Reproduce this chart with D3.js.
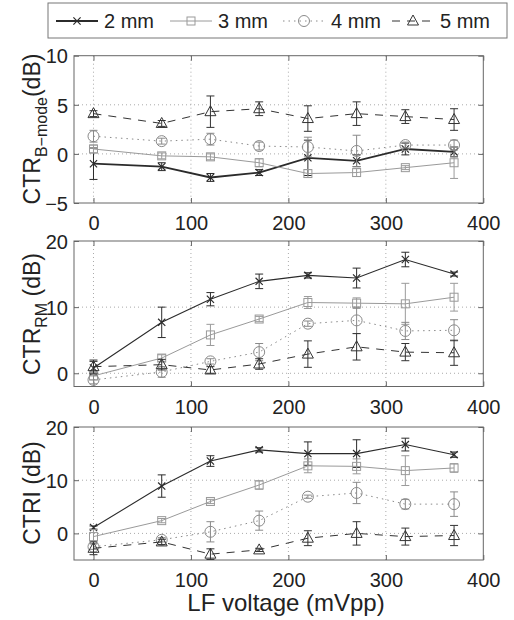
<!DOCTYPE html>
<html><head><meta charset="utf-8">
<script src="https://cdn.jsdelivr.net/npm/d3@7"></script>
<style>
html,body{margin:0;padding:0;background:#fff;}
svg{display:block;font-family:"Liberation Sans",Arial,Helvetica,sans-serif;}
</style></head>
<body><svg id="chart" width="514" height="620"></svg>
<script>
// ---------- data ----------
const voltages = [0, 70, 120, 170, 220, 270, 320, 370];
const seriesNames = ["2 mm", "3 mm", "4 mm", "5 mm"];
const xTicks = [0, 100, 200, 300, 400];

// CTR B-mode (dB)
const bmode2 = [-1.0, -1.3, -2.4, -1.9, -0.4, -0.7, 0.5, 0.2];
const bmode2Err = [1.6, 0.4, 0.4, 0.3, 1.8, 0.6, 0.6, 0.5];
const bmode3 = [0.5, -0.2, -0.3, -0.9, -2.0, -1.9, -1.4, -0.9];
const bmode3Err = [0.4, 0.3, 0.3, 0.4, 0.4, 0.4, 0.2, 1.6];
const bmode4 = [1.8, 1.3, 1.5, 0.8, 0.7, 0.3, 0.9, 0.9];
const bmode4Err = [0.6, 0.3, 0.6, 0.4, 1.0, 1.6, 0.3, 0.5];
const bmode5 = [4.1, 3.1, 4.3, 4.6, 3.6, 4.1, 3.8, 3.5];
const bmode5Err = [0.3, 0.3, 1.6, 0.7, 1.3, 1.2, 0.7, 1.1];
const bmodeTicks = [-5, 0, 5, 10];

// CTR RM (dB)
const rm2 = [0.8, 7.7, 11.2, 13.9, 14.8, 14.4, 17.2, 15.0];
const rm2Err = [1.0, 2.3, 1.0, 1.1, 0.4, 1.5, 1.1, 0.3];
const rm3 = [-0.4, 2.3, 5.8, 8.2, 10.7, 10.6, 10.5, 11.5];
const rm3Err = [0.6, 0.5, 1.6, 0.4, 0.9, 0.8, 3.1, 2.1];
const rm4 = [-1.0, 0.2, 1.8, 3.2, 7.5, 8.0, 6.4, 6.5];
const rm4Err = [0.6, 0.8, 0.4, 1.3, 0.4, 2.0, 1.3, 1.6];
const rm5 = [1.0, 1.3, 0.5, 1.4, 2.9, 4.0, 3.2, 3.1];
const rm5Err = [1.0, 0.8, 0.5, 0.8, 2.0, 2.0, 1.3, 1.9];
const rmTicks = [0, 10, 20];

// CTRI (dB)
const ctri2 = [1.1, 8.9, 13.6, 15.7, 15.0, 15.0, 16.7, 14.8];
const ctri2Err = [0.3, 2.1, 1.0, 0.4, 2.2, 2.6, 1.2, 0.5];
const ctri3 = [-0.6, 2.4, 6.0, 9.1, 12.7, 12.6, 11.8, 12.3];
const ctri3Err = [1.3, 0.4, 0.4, 0.8, 1.3, 1.4, 2.8, 0.8];
const ctri4 = [-2.5, -1.2, 0.3, 2.4, 6.9, 7.6, 5.5, 5.5];
const ctri4Err = [0.5, 0.4, 1.9, 1.8, 0.3, 2.0, 0.9, 2.3];
const ctri5 = [-2.8, -1.6, -3.9, -3.1, -0.9, 0.0, -0.6, -0.4];
const ctri5Err = [1.2, 0.5, 1.0, 0.3, 1.4, 2.2, 1.6, 1.9];
const ctriTicks = [0, 10, 20];

// ---------- styles ----------
const styles = [
  {color: "#2b2b2b", dash: null, marker: "x"},
  {color: "#9a9a9a", dash: null, marker: "square"},
  {color: "#8a8a8a", dash: "1.5,4", marker: "circle"},
  {color: "#333333", dash: "8,7", marker: "triangle"}
];

const svg = d3.select("#chart");
const x = d3.scaleLinear().domain([-20, 400]).range([74, 483.3]);

const panels = [
  {series: [bmode2, bmode3, bmode4, bmode5], errs: [bmode2Err, bmode3Err, bmode4Err, bmode5Err],
   domain: [-5, 10], range: [203, 55.7], ticks: bmodeTicks, w2: 1.8},
  {series: [rm2, rm3, rm4, rm5], errs: [rm2Err, rm3Err, rm4Err, rm5Err],
   domain: [-2, 20], range: [386.5, 241], ticks: rmTicks, w2: 1.1},
  {series: [ctri2, ctri3, ctri4, ctri5], errs: [ctri2Err, ctri3Err, ctri4Err, ctri5Err],
   domain: [-5, 20], range: [560, 427], ticks: ctriTicks, w2: 1.1}
];

function drawMarker(g, type, cx, cy, color) {
  if (type === "x") {
    const s = 3.6;
    g.append("path").attr("d", `M${cx-s},${cy-s}L${cx+s},${cy+s}M${cx-s},${cy+s}L${cx+s},${cy-s}`)
      .attr("stroke", color).attr("stroke-width", 1.2).attr("fill", "none");
  } else if (type === "square") {
    g.append("rect").attr("x", cx-4).attr("y", cy-4).attr("width", 8).attr("height", 8)
      .attr("stroke", color).attr("stroke-width", 1).attr("fill", "none");
  } else if (type === "circle") {
    g.append("circle").attr("cx", cx).attr("cy", cy).attr("r", 5.5)
      .attr("stroke", color).attr("stroke-width", 1).attr("fill", "none");
  } else {
    g.append("path").attr("d", `M${cx},${cy-6}L${cx+5.5},${cy+4}L${cx-5.5},${cy+4}Z`)
      .attr("stroke", color).attr("stroke-width", 1).attr("fill", "none");
  }
}

panels.forEach((p) => {
  const y = d3.scaleLinear().domain(p.domain).range(p.range);
  const g = svg.append("g");
  const [x0, x1] = x.range();
  const [yb, yt] = y.range();

  // grid
  g.selectAll(".gx").data(xTicks.filter(t => t < 400)).enter().append("line")
    .attr("x1", d => x(d)).attr("x2", d => x(d)).attr("y1", yt).attr("y2", yb)
    .attr("stroke", "#aaa").attr("stroke-width", 1).attr("stroke-dasharray", "1,3");
  g.selectAll(".gy").data(p.ticks.filter(t => t > p.domain[0] && t < p.domain[1])).enter().append("line")
    .attr("x1", x0).attr("x2", x1).attr("y1", d => y(d)).attr("y2", d => y(d))
    .attr("stroke", "#aaa").attr("stroke-width", 1).attr("stroke-dasharray", "1,3");

  // axes
  const ax = g.append("g").attr("transform", `translate(0,${yb})`)
    .call(d3.axisBottom(x).tickValues(xTicks).tickSizeInner(-5).tickSizeOuter(0).tickPadding(17));
  const axT = g.append("g").attr("transform", `translate(0,${yt})`)
    .call(d3.axisTop(x).tickValues(xTicks).tickSizeInner(-5).tickSizeOuter(0).tickFormat(""));
  const ay = g.append("g").attr("transform", `translate(${x0},0)`)
    .call(d3.axisLeft(y).tickValues(p.ticks).tickSizeInner(-5).tickSizeOuter(0).tickPadding(6)
      .tickFormat(d => d < 0 ? "\u2212" + Math.abs(d) : d));
  const ayR = g.append("g").attr("transform", `translate(${x1},0)`)
    .call(d3.axisRight(y).tickValues(p.ticks).tickSizeInner(-5).tickSizeOuter(0).tickFormat(""));
  [ax, axT, ay, ayR].forEach(a => {
    a.select(".domain").remove();
    a.selectAll(".tick line").attr("stroke", "#666");
    a.selectAll("text").attr("font-size", 20).attr("fill", "#222")
      .attr("font-family", "'Liberation Sans',Arial,sans-serif");
  });
  ax.selectAll("text").attr("dy", "0.5em");
  ay.selectAll("text").attr("dy", "0.36em");

  // box
  g.append("rect").attr("x", x0).attr("y", yt).attr("width", x1 - x0).attr("height", yb - yt)
    .attr("fill", "none").attr("stroke", "#666").attr("stroke-width", 1);

  // series
  p.series.forEach((vals, si) => {
    const st = styles[si];
    const sg = g.append("g");
    const line = d3.line().x((d, i) => x(voltages[i])).y(d => y(d));
    sg.append("path").datum(vals).attr("d", line).attr("fill", "none")
      .attr("stroke", st.color).attr("stroke-width", si === 0 ? p.w2 : 1)
      .attr("stroke-dasharray", st.dash);
    vals.forEach((v, i) => {
      const cx = x(voltages[i]);
      const e = p.errs[si][i];
      const ya = y(v + e), yb2 = y(v - e);
      sg.append("path").attr("d", `M${cx},${ya}L${cx},${yb2}M${cx-4},${ya}L${cx+4},${ya}M${cx-4},${yb2}L${cx+4},${yb2}`)
        .attr("stroke", st.color).attr("stroke-width", 1).attr("fill", "none");
      drawMarker(sg, st.marker, cx, y(v), st.color);
    });
  });
});

// y labels
const ylab = [
  {cy: 129, main: "CTR", sub: "B\u2212mode", tail: "(dB)"},
  {cy: 314, main: "CTR", sub: "RM", tail: " (dB)"},
  {cy: 493, main: "CTRI (dB)", sub: null, tail: null}
];
ylab.forEach(l => {
  const t = svg.append("text").attr("transform", `translate(40,${l.cy}) rotate(-90)`)
    .attr("text-anchor", "middle").attr("font-size", 23).attr("fill", "#222");
  t.append("tspan").text(l.main);
  if (l.sub) {
    t.append("tspan").attr("font-size", 16).attr("dy", 7).text(l.sub);
    t.append("tspan").attr("dy", -7).text(l.tail);
  }
});

// x label
svg.append("text").attr("x", 286).attr("y", 611).attr("text-anchor", "middle")
  .attr("font-size", 24).attr("fill", "#222").text("LF voltage (mVpp)");

// legend
const lg = svg.append("g");
lg.append("rect").attr("x", 48).attr("y", 3).attr("width", 459).attr("height", 35)
  .attr("fill", "#fff").attr("stroke", "#777").attr("stroke-width", 1);
const legX = [56, 170, 283, 392];
seriesNames.forEach((n, i) => {
  const st = styles[i];
  const lx = legX[i], ly = 21;
  lg.append("line").attr("x1", lx).attr("x2", lx + 42).attr("y1", ly).attr("y2", ly)
    .attr("stroke", st.color).attr("stroke-width", i === 0 ? 1.8 : 1).attr("stroke-dasharray", st.dash);
  drawMarker(lg, st.marker, lx + 21, ly, st.color);
  lg.append("text").attr("x", lx + 48).attr("y", ly + 7).attr("font-size", 20).attr("fill", "#222").text(n);
});
</script></body></html>
